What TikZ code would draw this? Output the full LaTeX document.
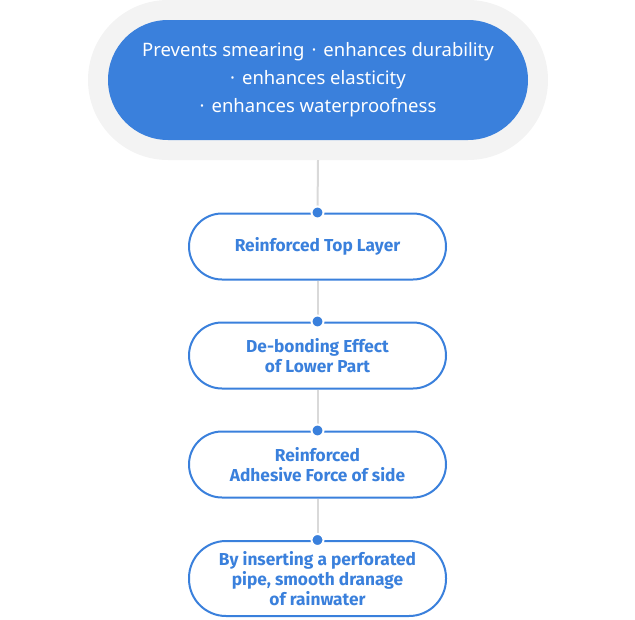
\documentclass[tikz,border=0pt]{standalone}
\usepackage{fontspec}
\setmainfont{Noto Sans}
\newfontfamily\boxfont{Fira Sans}
\definecolor{mainblue}{HTML}{3A80DC}
\definecolor{outergray}{HTML}{F3F3F3}
\definecolor{linegray}{HTML}{D9D9D9}
\newcommand{\mdot}{\hspace{7pt}·\hspace{7pt}}
\tikzset{
  outerpill/.style={rectangle, fill=outergray, minimum width=460pt, minimum height=160pt, rounded corners=80pt, inner sep=0pt},
  innerpill/.style={rectangle, fill=mainblue, text=white, minimum width=420pt, minimum height=120pt, rounded corners=60pt, align=center, inner sep=0pt, font=\fontsize{18.5}{28}\selectfont},
  stepbox/.style={rectangle, draw=mainblue, line width=2pt, fill=white, text=mainblue, minimum width=257pt, rounded corners=33pt, align=center, inner sep=0pt, font=\boxfont\bfseries\fontsize{17.3}{20.3}\selectfont},
  conn/.style={draw=linegray, line width=2pt},
  joint/.style={circle, fill=mainblue, draw=white, line width=2pt, minimum size=12pt, inner sep=0pt}
}
\begin{document}
\begin{tikzpicture}[x=1pt,y=-1pt]
\useasboundingbox (0,0) rectangle (635,619);
\node[outerpill] (outer) at (318,80) {};
\node[innerpill] (top) at (318,80) {Prevents smearing\mdot enhances durability\\·\hspace{7pt}enhances elasticity\\·\hspace{7pt}enhances waterproofness};
\node[stepbox, minimum height=66pt] (b1) at (317.5,246.5) {Reinforced Top Layer};
\node[stepbox, minimum height=66pt] (b2) at (317.5,355.5) {De-bonding Effect\\of Lower Part};
\node[stepbox, minimum height=66pt] (b3) at (317.5,464.5) {Reinforced\\Adhesive Force of side};
\node[stepbox, minimum height=75pt, rounded corners=37pt] (b4) at (317.5,578.5) {By inserting a perforated\\pipe, smooth dranage\\of rainwater};
\path[conn] (outer.south) -- (b1.north);
\path[conn] (b1.south) -- (b2.north);
\path[conn] (b2.south) -- (b3.north);
\path[conn] (b3.south) -- (b4.north);
\node[joint] (d1) at (b1.north) {};
\node[joint] (d2) at (b2.north) {};
\node[joint] (d3) at (b3.north) {};
\node[joint] (d4) at (b4.north) {};
\end{tikzpicture}
\end{document}
